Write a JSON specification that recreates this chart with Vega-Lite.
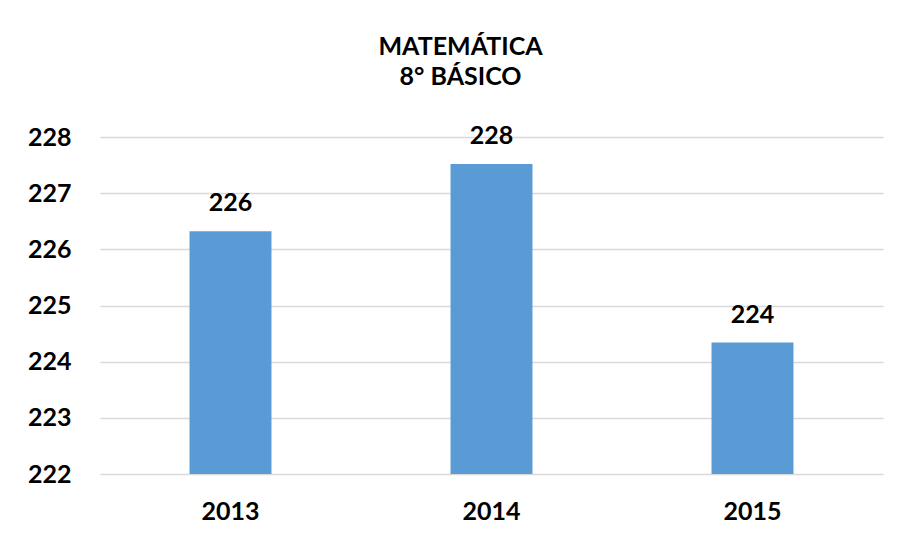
{
  "$schema": "https://vega.github.io/schema/vega-lite/v6.json",
  "autosize": "none",
  "padding": {"left": 100, "top": 137, "right": 17, "bottom": 66},
  "width": 783,
  "height": 337,
  "background": "white",
  "title": {
    "text": ["MATEMÁTICA", "8° BÁSICO"],
    "font": "Lato",
    "fontSize": 25,
    "fontWeight": "bold",
    "color": "#000000",
    "anchor": "middle",
    "dx": -31,
    "offset": 34,
    "lineHeight": 30
  },
  "data": {
    "values": [
      {"year": "2013", "score": 226.32},
      {"year": "2014", "score": 227.52},
      {"year": "2015", "score": 224.34}
    ]
  },
  "encoding": {
    "x": {
      "field": "year",
      "type": "nominal",
      "scale": {"paddingInner": 0.686, "paddingOuter": 0.343},
      "axis": {
        "title": null,
        "labelAngle": 0,
        "labelFont": "Lato",
        "labelFontSize": 25,
        "labelFontWeight": "bold",
        "labelColor": "#000000",
        "labelPadding": 25,
        "ticks": false,
        "domain": false
      }
    },
    "y": {
      "field": "score",
      "type": "quantitative",
      "scale": {"domain": [222, 228], "nice": false, "zero": false},
      "axis": {
        "title": null,
        "values": [222, 223, 224, 225, 226, 227, 228],
        "labelFont": "Lato",
        "labelFontSize": 25,
        "labelFontWeight": "bold",
        "labelColor": "#000000",
        "labelPadding": 29,
        "ticks": false,
        "domain": false,
        "grid": true,
        "gridColor": "#d9d9d9",
        "gridWidth": 1.5
      }
    }
  },
  "layer": [
    {
      "mark": {"type": "bar", "color": "#5b9bd5", "clip": true},
      "encoding": {"y2": {"datum": 222}}
    },
    {
      "mark": {
        "type": "text",
        "font": "Lato",
        "fontSize": 25,
        "fontWeight": "bold",
        "color": "#000000",
        "baseline": "alphabetic",
        "dy": -20
      },
      "encoding": {
        "text": {"field": "score", "type": "quantitative", "format": ".0f"}
      }
    }
  ],
  "config": {"view": {"stroke": null}}
}
